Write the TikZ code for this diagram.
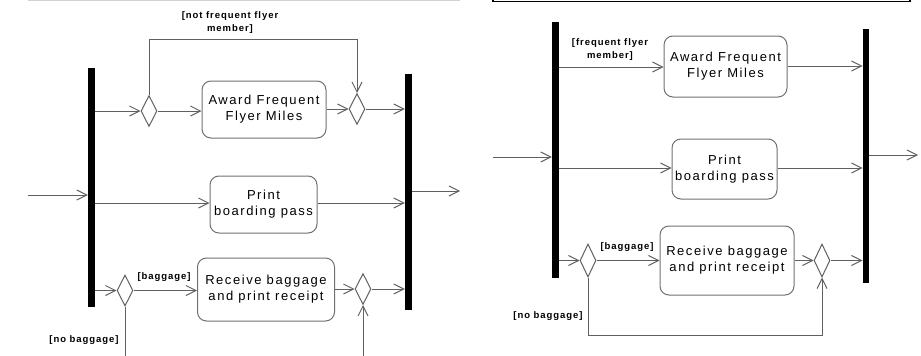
\documentclass[tikz,border=0pt]{standalone}
\usepackage{fontspec}
\setmainfont{Liberation Sans}
\newfontfamily\actfont[LetterSpace=12]{Liberation Sans}
\newfontfamily\guardfont[LetterSpace=10]{Liberation Sans}
\usetikzlibrary{arrows.meta, shapes.geometric}

\definecolor{linegray}{HTML}{606060}
\definecolor{boxgray}{HTML}{707070}

\begin{document}
\begin{tikzpicture}[
        x=1pt, y=-1pt,
        bar/.style={rectangle, fill=black, draw=none, minimum width=7pt, inner sep=0pt},
        decision/.style={diamond, draw=linegray, line width=1pt, minimum width=16pt, minimum height=31pt, inner sep=0pt},
        action/.style={rectangle, rounded corners=9pt, draw=boxgray, line width=1pt, align=center, inner sep=0pt, font=\actfont\fontsize{13}{16}\selectfont},
        guard/.style={align=center, inner sep=0pt, font=\guardfont\bfseries\fontsize{9.5}{13}\selectfont},
        flow/.style={-{Straight Barb[length=10pt, width=10pt]}, draw=linegray, line width=1pt},
        plain/.style={draw=linegray, line width=1pt},
        ]
        \clip (0,0) rectangle (921,356);
        \useasboundingbox (0,0) rectangle (921,356);

        % frame edges cut off at the top
        \draw[gray!35, line width=1pt] (28,0.5) -- (460,0.5);
        \draw[black, line width=1.2pt] (493,-5) rectangle (910,1.5);

        % ---------- left diagram ----------
        \node[bar, minimum height=239pt] (forkA) at (91.5,187.5) {};
        \node[bar, minimum height=236pt] (joinA) at (408.5,192) {};

        \node[decision] (splitA) at (149,111) {};
        \node[decision] (mergeA) at (357,109) {};
        \node[decision] (bagA) at (125,290.5) {};
        \node[decision] (bagjoinA) at (363,289) {};

        \node[action, minimum width=124pt, minimum height=57pt] (awardA) at (264,109.5) {Award Frequent\\Flyer Miles};
        \node[action, minimum width=107pt, minimum height=57pt] (printA) at (263.5,204.5) {Print\\boarding pass};
        \node[action, minimum width=137pt, minimum height=63pt] (recvA) at (266,289.5) {Receive baggage\\and print receipt};

        \coordinate (inA) at (28,195);
        \coordinate (outA) at (460,191);
        \coordinate (loopA) at (0,39);
        \coordinate (downA) at (125,360);
        \coordinate (upA) at (363,360);

        \node[guard] (notffA) at (230,22.5) {[not frequent flyer\\member]};
        \node[guard] (bagguardA) at (164,277) {[baggage]};
        \node[guard] (nobagA) at (84,340) {[no baggage]};

        \draw[flow] (inA) -- (forkA.west |- inA);
        \draw[flow] (forkA.east |- splitA) -- (splitA.west);
        \draw[flow] (splitA.east) -- (awardA.west |- splitA);
        \draw[flow] (awardA.east |- mergeA) -- (mergeA.west);
        \draw[flow] (mergeA.east) -- (joinA.west |- mergeA);
        \draw[flow] (splitA.north) |- (mergeA.north |- loopA) -- (mergeA.north);
        \draw[flow] (forkA.east |- 0,203) -- (printA.west |- 0,203);
        \draw[flow] (printA.east |- 0,203) -- (joinA.west |- 0,203);
        \draw[flow] (joinA.east |- outA) -- (outA);
        \draw[flow] (forkA.east |- bagA) -- (bagA.west);
        \draw[flow] (bagA.east) -- (recvA.west |- bagA);
        \draw[flow] (recvA.east |- bagjoinA) -- (bagjoinA.west);
        \draw[flow] (bagjoinA.east) -- (joinA.west |- bagjoinA);
        \draw[plain] (bagA.south) -- (downA);
        \draw[flow] (upA) -- (bagjoinA.south);

        % ---------- right diagram ----------
        \node[bar, minimum height=256pt] (forkB) at (555.5,150) {};
        \node[bar, minimum height=254pt, minimum width=6.5pt] (joinB) at (866,156) {};

        \node[decision, minimum height=33pt] (bagB) at (588,260.5) {};
        \node[decision, minimum height=33pt] (bagjoinB) at (822,260.5) {};

        \node[action, minimum width=123pt, minimum height=61pt] (awardB) at (725.5,66.5) {Award Frequent\\Flyer Miles};
        \node[action, minimum width=105pt, minimum height=60pt] (printB) at (724.5,169) {Print\\boarding pass};
        \node[action, minimum width=134pt, minimum height=69pt] (recvB) at (727,260.5) {Receive baggage\\and print receipt};

        \coordinate (inB) at (493,157);
        \coordinate (outB) at (918,155);
        \coordinate (loopB) at (0,335);

        \node[guard] (ffB) at (610,50) {[frequent flyer\\member]};
        \node[guard] (bagguardB) at (627,247) {[baggage]};
        \node[guard] (nobagB) at (548,316) {[no baggage]};

        \draw[flow] (inB) -- (forkB.west |- inB);
        \draw[flow] (forkB.east |- 0,67) -- (awardB.west |- 0,67);
        \draw[flow] (awardB.east |- 0,66) -- (joinB.west |- 0,66);
        \draw[flow] (forkB.east |- 0,168) -- (printB.west |- 0,168);
        \draw[flow] (printB.east |- 0,168) -- (joinB.west |- 0,168);
        \draw[flow] (joinB.east |- outB) -- (outB);
        \draw[flow] (forkB.east |- bagB) -- (bagB.west);
        \draw[flow] (bagB.east) -- (recvB.west |- bagB);
        \draw[flow] (recvB.east |- bagjoinB) -- (bagjoinB.west);
        \draw[flow] (bagjoinB.east) -- (joinB.west |- bagjoinB);
        \draw[flow] (bagB.south) |- (bagjoinB.south |- loopB) -- (bagjoinB.south);

\end{tikzpicture}
\end{document}
